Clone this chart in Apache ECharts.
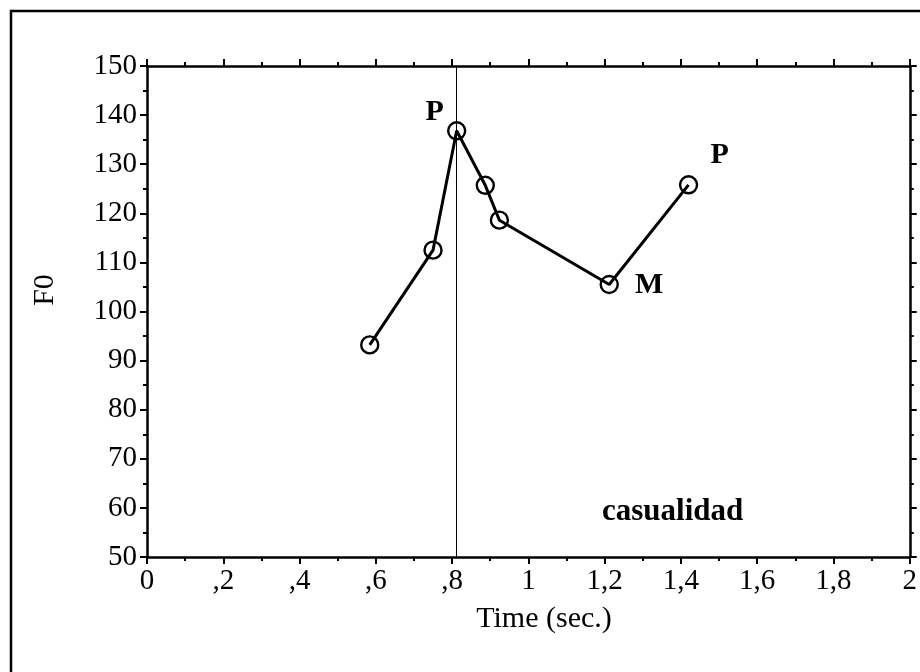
<!DOCTYPE html>
<html>
<head>
<meta charset="utf-8">
<script src="https://cdn.jsdelivr.net/npm/echarts@6/dist/echarts.min.js"></script>
<style>html,body{margin:0;padding:0;background:#fff;}#c{width:920px;height:672px;}</style>
</head>
<body>
<div id="c"></div>
<script>
const timeValues = [0.584, 0.750, 0.812, 0.887, 0.924, 1.212, 1.420];
const f0Values = [93.2, 112.5, 136.8, 125.7, 118.6, 105.5, 125.8];
const pointLabels = ['', '', 'P', '', '', 'M', 'P'];
const markerTime = [0.81];
const xTickLabels = ['0', ',2', ',4', ',6', ',8', '1', '1,2', '1,4', '1,6', '1,8', '2'];
const yTickLabels = ['50', '60', '70', '80', '90', '100', '110', '120', '130', '140', '150'];
const xTitle = 'Time (sec.)';
const yTitle = 'F0';
const noteText = 'casualidad';

const FONT = 'Liberation Serif';
const labelOffsets = {2: [-22, -19], 5: [40, 1], 6: [31, -30]};

const data = timeValues.map((t, i) => {
  const item = {value: [t, f0Values[i]]};
  if (pointLabels[i]) {
    item.label = {show: true, formatter: pointLabels[i], position: 'inside', offset: labelOffsets[i],
      fontFamily: FONT, fontSize: 30, fontWeight: 'bold', color: '#000'};
  }
  return item;
});

const axisCommon = {
  type: 'value',
  axisLine: {show: true, onZero: false, lineStyle: {color: '#000', width: 2.5}},
  axisTick: {show: true, length: 7, lineStyle: {color: '#000', width: 2}},
  minorTick: {show: true, splitNumber: 2, length: 4, lineStyle: {color: '#000', width: 2}},
  splitLine: {show: false}
};

const chart = echarts.init(document.getElementById('c'), null, {renderer: 'canvas'});
chart.setOption({
  animation: false,
  backgroundColor: '#fff',
  grid: {left: 147, right: 9, top: 66, bottom: 115},
  xAxis: [
    Object.assign({}, axisCommon, {min: 0, max: 2, interval: 0.2, position: 'bottom',
      axisLabel: {margin: 10, fontFamily: FONT, fontSize: 29, color: '#000',
        formatter: v => xTickLabels[Math.round(v / 0.2)]}}),
    Object.assign({}, axisCommon, {min: 0, max: 2, interval: 0.2, position: 'top', axisLabel: {show: false}})
  ],
  yAxis: [
    Object.assign({}, axisCommon, {min: 50, max: 150, interval: 10, position: 'left',
      axisLabel: {margin: 10, fontFamily: FONT, fontSize: 29, color: '#000',
        formatter: v => yTickLabels[Math.round((v - 50) / 10)]}}),
    Object.assign({}, axisCommon, {min: 50, max: 150, interval: 10, position: 'right', axisLabel: {show: false}})
  ],
  series: [{
    type: 'line',
    data: data,
    symbol: 'circle',
    symbolSize: 17,
    lineStyle: {color: '#000', width: 3},
    itemStyle: {color: 'rgba(255,255,255,0)', borderColor: '#000', borderWidth: 2.4},
    z: 5,
    markLine: {
      silent: true,
      symbol: 'none',
      label: {show: false},
      lineStyle: {color: '#000', width: 1, type: 'solid'},
      data: markerTime.map(t => ({xAxis: t}))
    }
  }],
  graphic: [
    {type: 'rect', shape: {x: 11, y: 11, width: 1000, height: 1000}, style: {fill: 'none', stroke: '#000', lineWidth: 2.5}, silent: true},
    {type: 'text', x: 544, y: 619, style: {text: xTitle, font: '30px "Liberation Serif"', fill: '#000', textAlign: 'center', textVerticalAlign: 'middle'}},
    {type: 'text', x: 45, y: 290, rotation: Math.PI / 2, style: {text: yTitle, font: '30px "Liberation Serif"', fill: '#000', textAlign: 'center', textVerticalAlign: 'middle'}},
    {type: 'text', x: 602, y: 512, style: {text: noteText, font: 'bold 31px "Liberation Serif"', fill: '#000', textAlign: 'left', textVerticalAlign: 'middle'}}
  ]
});
</script>
</body>
</html>
